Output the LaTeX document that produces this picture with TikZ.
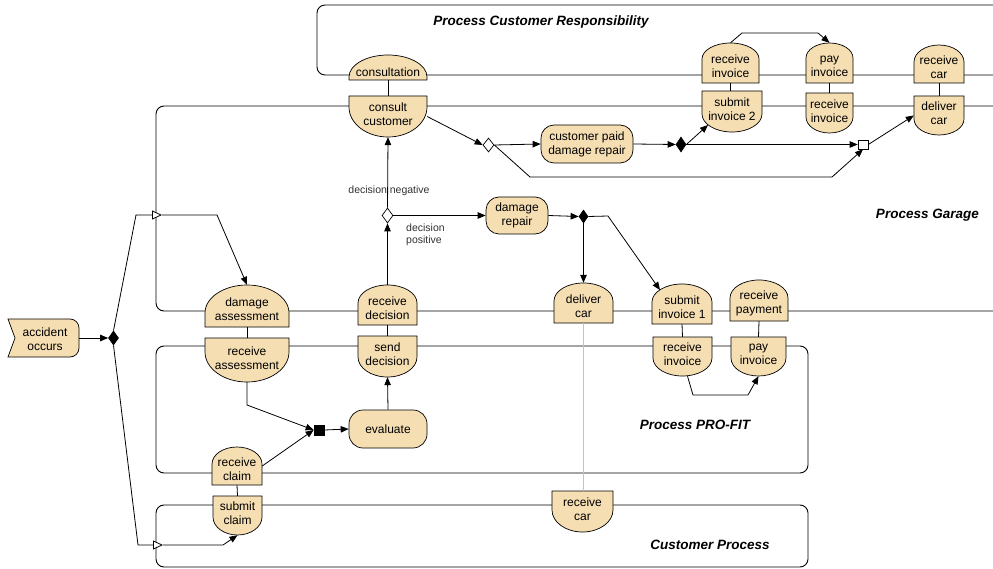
\documentclass[tikz,border=0pt]{standalone}
\usepackage{fontspec}
\setmainfont{Liberation Sans}
\usetikzlibrary{arrows.meta,shapes.geometric,shapes.misc}
\definecolor{fnfill}{RGB}{246,222,179}
\definecolor{softgray}{RGB}{195,195,195}

\tikzset{
  conn/.style={line width=0.8pt},
  arr/.style={conn,-{Triangle[length=8pt,width=6.5pt]}},
  opentip/.style={conn,-{Triangle[length=10pt,width=9pt,fill=white]}},
  lane/.style={line width=0.9pt, rounded corners=8pt},
  shp/.style={fill=fnfill, draw=black, line width=0.7pt},
  bbox/.style={rectangle, inner sep=0pt, draw=none},
  txt/.style={inner sep=0pt, align=center, font=\fontsize{12}{14}\selectfont},
  fnbox/.style={shp, rectangle, rounded corners=13pt, inner sep=0pt, align=center,
                font=\fontsize{12}{14}\selectfont},
  gate/.style={diamond, draw, line width=0.7pt, inner sep=0pt},
  gatebox/.style={rectangle, draw, line width=0.7pt, inner sep=0pt},
  lanetitle/.style={font=\fontsize{13.5}{16}\selectfont\bfseries\itshape, inner sep=0pt},
  small/.style={font=\fontsize{10.5}{12}\selectfont, inner sep=0pt, align=left, text=black!80},
}

% dome: flat bottom, elliptic top.  [text shift] name x1 ytop x2 ybottom archeight text
\newcommand\domenode[8][3]{%
  \pgfmathsetmacro\shXc{(#3+#5)/2}%
  \pgfmathsetmacro\shXl{\shXc-0.5523*(#5-#3)/2}%
  \pgfmathsetmacro\shXr{\shXc+0.5523*(#5-#3)/2}%
  \pgfmathsetmacro\shYa{#4+#7}%
  \pgfmathsetmacro\shYk{#4+#7-0.5523*#7}%
  \pgfmathsetmacro\shYc{(#4+#6)/2}%
  \pgfmathsetmacro\shW{#5-#3}\pgfmathsetmacro\shH{#6-#4}%
  \path[shp] (#3,#6) -- (#3,\shYa) .. controls (#3,\shYk) and (\shXl,#4) .. (\shXc,#4)
     .. controls (\shXr,#4) and (#5,\shYk) .. (#5,\shYa) -- (#5,#6) -- cycle;
  \node[bbox, minimum width=\shW pt, minimum height=\shH pt] (#2) at (\shXc,\shYc) {};
  \node[txt] (#2-t) at (\shXc,{\shYc+(#1)}) {#8};
}

% bowl: flat top, elliptic bottom.  [text shift] name x1 ytop x2 ybottom archeight text
\newcommand\bowlnode[8][-2]{%
  \pgfmathsetmacro\shXc{(#3+#5)/2}%
  \pgfmathsetmacro\shXl{\shXc-0.5523*(#5-#3)/2}%
  \pgfmathsetmacro\shXr{\shXc+0.5523*(#5-#3)/2}%
  \pgfmathsetmacro\shYa{#6-#7}%
  \pgfmathsetmacro\shYk{#6-#7+0.5523*#7}%
  \pgfmathsetmacro\shYc{(#4+#6)/2}%
  \pgfmathsetmacro\shW{#5-#3}\pgfmathsetmacro\shH{#6-#4}%
  \path[shp] (#3,#4) -- (#5,#4) -- (#5,\shYa) .. controls (#5,\shYk) and (\shXr,#6) .. (\shXc,#6)
     .. controls (\shXl,#6) and (#3,\shYk) .. (#3,\shYa) -- cycle;
  \node[bbox, minimum width=\shW pt, minimum height=\shH pt] (#2) at (\shXc,\shYc) {};
  \node[txt] (#2-t) at (\shXc,{\shYc+(#1)}) {#8};
}

\begin{document}
\begin{tikzpicture}[x=1pt,y=-1pt]
\useasboundingbox[fill=white] (0,0) rectangle (993,569);

% ---- swimlanes ----
\draw[lane] (993,5) -- (317,5) -- (317,75) -- (993,75);
\draw[lane] (993,106) -- (156,106) -- (156,311) -- (993,311);
\draw[lane] (156,346) rectangle (808,473);
\draw[lane] (156,505) rectangle (808,567);

\node[lanetitle] (ttl1) at (541,22) {Process Customer Responsibility};
\node[lanetitle, anchor=east] (ttl2) at (979,215) {Process Garage};
\node[lanetitle] (ttl3) at (695,425) {Process PRO-FIT};
\node[lanetitle] (ttl4) at (710,545) {Customer Process};

% ---- start event ----
\path[shp] (8,319) -- (70,319) .. controls (75,319) and (79,323) .. (79,328) -- (79,348)
   .. controls (79,353) and (75,357) .. (70,357) -- (8,357) -- (15,338) -- cycle;
\node[bbox, minimum width=71pt, minimum height=38pt] (acc) at (43.5,338) {};
\node[txt] (acc-t) at (45,339) {accident\\occurs};

% ---- customer responsibility lane ----
\domenode[4.5]{cons}{349}{55}{427}{80}{22}{consultation}
\domenode{riA}{702}{43}{759}{83}{16}{receive\\invoice}
\domenode{piA}{806}{43}{853}{83}{15}{pay\\invoice}
\domenode{rcA}{914}{45}{964}{83}{17}{receive\\car}

% ---- garage lane ----
\bowlnode{ccust}{349}{96}{427}{137}{30}{consult\\customer}
\bowlnode{siB}{702}{91}{762}{132}{18}{submit\\invoice 2}
\bowlnode{riB}{806}{93}{853}{133}{16}{receive\\invoice}
\bowlnode{dcB}{914}{96}{964}{135}{16}{deliver\\car}
\domenode{dass}{205}{285}{289}{327}{28}{damage\\assessment}
\domenode{rdec}{358}{285}{417}{325}{18}{receive\\decision}
\domenode{dcar}{554}{283}{613}{323}{18}{deliver\\car}
\domenode{siC}{652}{284}{712}{324}{18}{submit\\invoice 1}
\domenode{rpay}{730}{280}{788}{321}{18}{receive\\payment}

\node[fnbox, minimum width=92pt, minimum height=38pt] (cpaid) at (587,144) {customer paid\\damage repair};
\node[fnbox, minimum width=62pt, minimum height=37pt] (drep) at (517,215.5) {damage\\repair};

% ---- PRO-FIT lane ----
\bowlnode{rass}{205}{338}{289}{382}{30}{receive\\assessment}
\bowlnode{sdec}{358}{336}{417}{377}{20}{send\\decision}
\bowlnode{riD}{653}{337}{712}{376}{18}{receive\\invoice}
\bowlnode{piD}{731}{337}{786}{376}{18}{pay\\invoice}
\domenode{rclaim}{212}{447}{262}{485}{17}{receive\\claim}
\node[fnbox, rounded corners=14pt, minimum width=78pt, minimum height=38pt] (eval) at (388,429) {evaluate};

% ---- customer lane ----
\bowlnode{sclaim}{213}{496}{262}{535}{18}{submit\\claim}
\bowlnode{rcE}{552}{491}{613}{532}{22}{receive\\car}

% ---- connectors (gateways) ----
\node[gate, fill=black, minimum width=10pt, minimum height=14pt] (d1) at (113.5,338) {};
\node[gate, fill=white, minimum width=11pt, minimum height=14pt] (xd1) at (488.5,145) {};
\node[gate, fill=black, minimum width=10pt, minimum height=15pt] (bd2) at (681,144.5) {};
\node[gate, fill=white, minimum width=11pt, minimum height=15pt] (xd2) at (387.5,215.5) {};
\node[gate, fill=black, minimum width=9pt, minimum height=13pt] (bd3) at (583.5,216.5) {};
\node[gatebox, fill=black, minimum width=10pt, minimum height=10pt] (bsq) at (319,430) {};
\node[gatebox, fill=white, minimum width=10pt, minimum height=9pt] (osq) at (863,144.5) {};

% ---- bend points ----
\coordinate (k1) at (136,215);
\coordinate (tri1) at (162,215);
\coordinate (k2) at (217,215);
\coordinate (k3) at (138,545);
\coordinate (tri2) at (163,545);
\coordinate (k4) at (223,545);
\coordinate (k5) at (530,177);
\coordinate (k6) at (832,177);
\coordinate (siBin) at (708,125);
\coordinate (k8) at (742,33);
\coordinate (k9) at (818,33);
\coordinate (k10) at (247,405);
\coordinate (k11) at (608,216);
\coordinate (siCin) at (660,290);
\coordinate (k12) at (693,395);
\coordinate (k13) at (748,395);

% ---- flows ----
\draw[arr] (acc.east) -- (d1.west);
\draw[opentip] (d1.north) -- (k1) -- (tri1);
\draw[arr] (tri1) -- (k2) -- (dass.north);
\draw[opentip] (d1.south) -- (k3) -- (tri2);
\draw[arr] (tri2) -- (k4) -- (sclaim.south);

\draw[conn] (cons.south) -- (ccust.north);
\draw[arr] (ccust.east) -- (xd1.west);
\draw[arr] (xd1.east) -- (cpaid.west);
\draw[arr] (xd1.east) -- (k5) -- (k6) -- (osq.south);
\draw[arr] (cpaid.east) -- (bd2.west);
\draw[arr] (bd2.east) -- (siBin);
\draw[arr] (bd2.east) -- (osq.west);
\draw[arr] (osq.east) -- (dcB.west);

\draw[arr] (riA.north) -- (k8) -- (k9) -- (piA.north);
\draw[conn] (riA.south) -- (riA.south |- siB.north);
\draw[conn] (piA.south) -- (riB.north);
\draw[conn] (rcA.south) -- (dcB.north);

\draw[arr] (xd2.north) -- (ccust.south);
\node[small] (lneg) at (389,191) {decision negative};
\draw[arr] (xd2.east) -- (drep.west);
\node[small, anchor=west] (lpos) at (406,235) {decision\\positive};
\draw[arr] (rdec.north) -- (xd2.south);
\draw[conn] (rdec.south) -- (sdec.north);
\draw[conn] (dass.south) -- (rass.north);

\draw[arr] (rass.south) -- (k10) -- (bsq.west);
\draw[arr] (rclaim.east) -- (bsq.west);
\draw[arr] (bsq.east) -- (eval.west);
\draw[arr] (eval.north) -- (sdec.south);
\draw[conn] (rclaim.south) -- (sclaim.north);

\draw[arr] (drep.east) -- (bd3.west);
\draw[arr] (bd3.south) -- (dcar.north);
\draw[arr] (bd3.east) -- (k11) -- (siCin);
\draw[conn, softgray] (dcar.south) -- (dcar.south |- rcE.north);
\draw[conn] (siC.south) -- (riD.north);
\draw[conn] (rpay.south) -- (piD.north);
\draw[arr] ([xshift=5pt]riD.south) -- (k12) -- (k13) -- (piD.south);
\end{tikzpicture}
\end{document}
